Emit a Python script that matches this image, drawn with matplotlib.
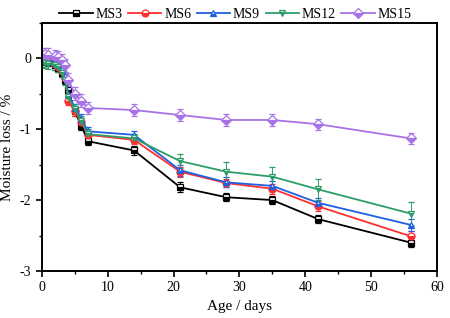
import matplotlib
matplotlib.use('Agg')
import matplotlib.pyplot as plt
from matplotlib.ticker import MultipleLocator
from matplotlib.lines import Line2D

plt.rcParams['font.family'] = ['Liberation Serif', 'DejaVu Serif']
plt.rcParams['axes.unicode_minus'] = False

# age in days
days = [0, 0.5, 1, 2, 2.5, 3, 3.5, 4, 5, 6, 7, 14, 21, 28, 35, 42, 56]

ms3 = [0, -0.03, -0.05, -0.1, -0.13, -0.2, -0.3, -0.45, -0.75, -0.95, -1.17,
       -1.3, -1.82, -1.96, -2.0, -2.27, -2.6]
ms6 = [0, -0.02, -0.04, -0.08, -0.12, -0.18, -0.28, -0.6, -0.75, -0.9, -1.08,
       -1.15, -1.6, -1.76, -1.84, -2.09, -2.51]
ms9 = [0.02, 0.0, -0.02, -0.06, -0.1, -0.15, -0.25, -0.5, -0.7, -0.85, -1.03,
       -1.08, -1.58, -1.75, -1.8, -2.04, -2.35]
ms12 = [-0.05, -0.06, -0.08, -0.1, -0.12, -0.2, -0.3, -0.55, -0.72, -0.88, -1.07,
        -1.13, -1.45, -1.6, -1.67, -1.85, -2.19]
ms15 = [0.05, 0.06, 0.05, 0.03, 0.02, -0.03, -0.1, -0.3, -0.5, -0.6, -0.7,
        -0.73, -0.8, -0.87, -0.87, -0.93, -1.13]

err3 = [0.06] * 11 + [0.06, 0.07, 0.06, 0.06, 0.06, 0.06]
err6 = [0.06] * 11 + [0.06, 0.07, 0.06, 0.07, 0.07, 0.07]
err9 = [0.06] * 11 + [0.06, 0.08, 0.07, 0.07, 0.07, 0.08]
err12 = [0.07] * 11 + [0.06, 0.1, 0.14, 0.14, 0.15, 0.16]
err15 = [0.09] * 11 + [0.08, 0.08, 0.08, 0.08, 0.08, 0.08]

series = [
    ('MS3', ms3, err3, 'black', 's'),
    ('MS6', ms6, err6, '#ff3030', 'o'),
    ('MS9', ms9, err9, '#1f5fe0', '^'),
    ('MS12', ms12, err12, '#2e9e68', 'v'),
    ('MS15', ms15, err15, '#a873e6', 'D'),
]

fig = plt.figure(figsize=(4.5, 3.18), dpi=100)
ax = fig.add_axes([0.093, 0.148, 0.878, 0.78])

handles = []
for name, vals, err, col, mk in series:
    ms = 5 if mk != 'D' else 5.5
    ax.errorbar(days, vals, yerr=err, color=col, lw=1.3, marker=mk, ms=ms,
                fillstyle='bottom', markerfacecoloralt='white', mec=col, mew=0.9,
                elinewidth=0.7, capsize=2.5, capthick=0.7, ecolor=col)
    handles.append(Line2D([], [], color=col, lw=1.3, marker=mk, ms=ms,
                          fillstyle='bottom', markerfacecoloralt='white',
                          mec=col, mew=0.9, label=name))

ax.set_xlim(0, 60)
ax.set_ylim(-3, 0.5)
ax.xaxis.set_major_locator(MultipleLocator(10))
ax.xaxis.set_minor_locator(MultipleLocator(5))
ax.yaxis.set_major_locator(MultipleLocator(1))
ax.yaxis.set_minor_locator(MultipleLocator(0.5))
ax.tick_params(which='major', direction='out', length=4, width=1.2, labelsize=10)
ax.tick_params(which='minor', direction='out', length=2.5, width=1.0)
for s in ax.spines.values():
    s.set_linewidth(1.4)

ax.set_xlabel('Age / days', fontsize=11)
ax.set_ylabel('Moisture loss / %', fontsize=11)

ax.legend(handles=handles, loc='lower center', bbox_to_anchor=(0.49, 0.985),
          ncol=5, frameon=False, fontsize=10, handlelength=2.4,
          handletextpad=0.2, columnspacing=0.4, borderaxespad=0.0)

fig.savefig('out.png', dpi=100)
